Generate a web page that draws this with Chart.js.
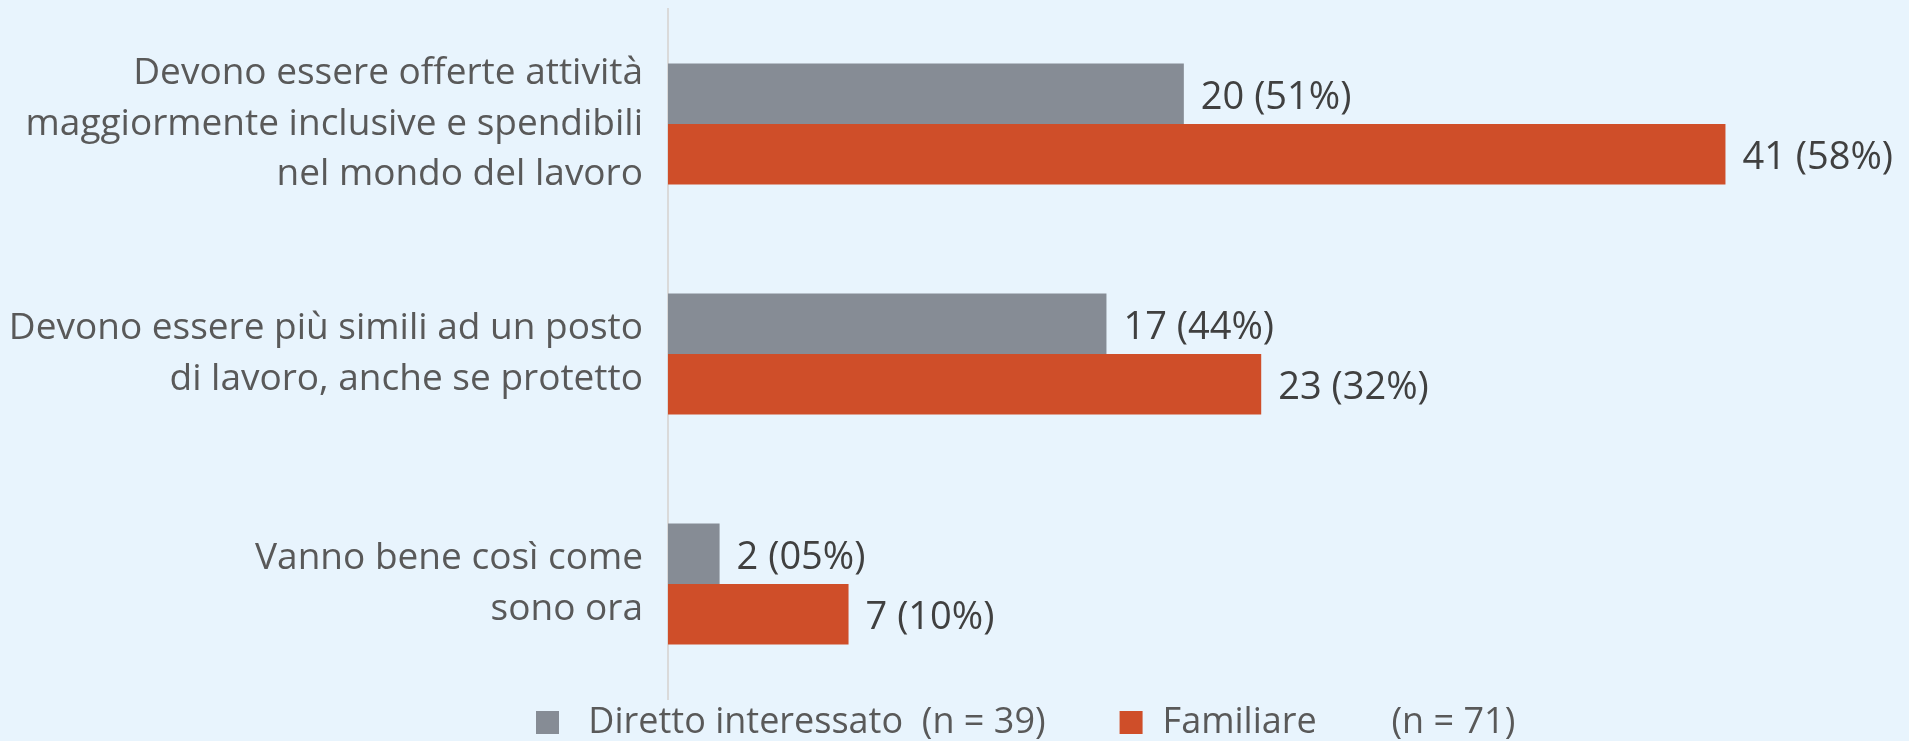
<!DOCTYPE html>
<html>
<head>
<meta charset="utf-8">
<script src="https://cdn.jsdelivr.net/npm/chart.js@4.4.1/dist/chart.umd.min.js"></script>
<style>
  html, body { margin: 0; padding: 0; background: #e8f4fd; }
  canvas { display: block; }
</style>
</head>
<body>
<canvas id="chart" width="1909" height="741"></canvas>
<script>
// answers, one row of lines per category
var categories = [
    ['Devono essere offerte attività', 'maggiormente inclusive e spendibili', 'nel mondo del lavoro'],
    ['Devono essere più simili ad un posto', 'di lavoro, anche se protetto'],
    ['Vanno bene così come', 'sono ora']
];
var seriesNames = [' Diretto interessato  (n = 39)', 'Familiare        (n = 71)'];
var diretto = [20, 17, 2];
var direttoPct = ['51%', '44%', '05%'];
var familiare = [41, 23, 7];
var familiarePct = ['58%', '32%', '10%'];
var xMax = 48;

var FONT = "'Open Sans', sans-serif";
Chart.defaults.font.family = FONT;

// "20 (51%)" next to each bar
var valueLabels = {
    id: 'valueLabels',
    afterDatasetsDraw: function (chart) {
        var ctx = chart.ctx;
        ctx.save();
        ctx.font = '38px ' + FONT;
        ctx.fillStyle = '#404040';
        ctx.textBaseline = 'middle';
        chart.data.datasets.forEach(function (ds, di) {
            chart.getDatasetMeta(di).data.forEach(function (bar, i) {
                ctx.fillText(ds.data[i] + ' (' + ds.pct[i] + ')', bar.x + 17, bar.y + 4);
            });
        });
        ctx.restore();
    }
};

// legend row under the plot, offset like the original
var bottomLegend = {
    id: 'bottomLegend',
    afterDraw: function (chart) {
        var ctx = chart.ctx;
        var y = chart.chartArea.bottom + 24;
        var x = chart.chartArea.left - 132;
        ctx.save();
        ctx.font = '36px ' + FONT;
        ctx.textBaseline = 'middle';
        chart.data.datasets.forEach(function (ds) {
            ctx.fillStyle = ds.backgroundColor;
            ctx.fillRect(x, y - 12, 23, 23);
            x += 23 + 20;
            ctx.fillStyle = '#595959';
            ctx.fillText(ds.label, x, y);
            x += ctx.measureText(ds.label).width + 74;
        });
        ctx.restore();
    }
};

new Chart(document.getElementById('chart'), {
    type: 'bar',
    data: {
        labels: categories,
        datasets: [
            { label: seriesNames[0], data: diretto, pct: direttoPct, backgroundColor: '#868c95' },
            { label: seriesNames[1], data: familiare, pct: familiarePct, backgroundColor: '#cf4e29' }
        ]
    },
    options: {
        indexAxis: 'y',
        responsive: false,
        animation: false,
        categoryPercentage: 0.526,
        barPercentage: 1,
        layout: { padding: { top: 9, right: 3, bottom: 42, left: 0 } },
        scales: {
            x: { display: false, min: 0, max: xMax },
            y: {
                afterFit: function (scale) {
                    // fixed label column, no extra room for tall labels
                    scale.width = 668;
                    scale.paddingTop = 0;
                    scale.paddingBottom = 0;
                },
                grid: { display: true, drawOnChartArea: false, drawTicks: false },
                border: { color: '#dadada', width: 2 },
                ticks: {
                    padding: 25,
                    color: '#595959',
                    font: { size: 37, lineHeight: 1.36 }
                }
            }
        },
        plugins: {
            legend: { display: false },
            tooltip: { enabled: false }
        }
    },
    plugins: [valueLabels, bottomLegend]
});
</script>
</body>
</html>
